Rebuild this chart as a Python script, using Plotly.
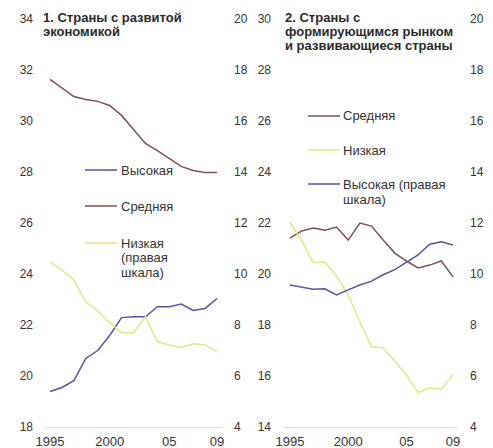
import plotly.graph_objects as go

W, H = 493, 448

years = list(range(1995, 2010))

# Panel 1: advanced economies
adv_high = [19.37, 19.53, 19.8, 20.67, 20.98, 21.57, 22.27, 22.3, 22.3, 22.7, 22.7, 22.8, 22.55, 22.63, 23.02]
adv_mid = [31.61, 31.29, 30.94, 30.82, 30.75, 30.59, 30.2, 29.65, 29.1, 28.82, 28.51, 28.2, 28.04, 27.96, 27.96]
adv_low = [10.45, 10.14, 9.75, 8.89, 8.54, 8.07, 7.68, 7.68, 8.3, 7.32, 7.2, 7.09, 7.25, 7.2, 6.93]  # right scale

# Panel 2: emerging & developing
em_mid = [21.39, 21.67, 21.78, 21.7, 21.82, 21.31, 21.98, 21.86, 21.31, 20.8, 20.49, 20.22, 20.33, 20.49, 19.87]
em_low = [22.0, 21.3, 20.42, 20.45, 19.9, 19.16, 18.1, 17.13, 17.09, 16.55, 16.03, 15.33, 15.52, 15.45, 16.03]
em_high = [9.55, 9.45, 9.38, 9.4, 9.16, 9.36, 9.55, 9.7, 9.95, 10.15, 10.45, 10.73, 11.15, 11.24, 11.12]  # right scale

xtick_vals = [1995, 2000, 2005, 2009]
xtick_text = ["1995", "2000", "05", "09"]

BLUE = "#55559a"
BROWN = "#7d5252"
YELLOW = "#e6e38a"
FONT = "Liberation Sans, Arial, sans-serif"
TXT = "#333333"


def X(px):
    return px / W


def Y(py):
    return 1 - py / H


fig = go.Figure()

fig.add_trace(go.Scatter(x=years, y=adv_mid, xaxis="x", yaxis="y", mode="lines",
                         line=dict(color=BROWN, width=1.5), showlegend=False))
fig.add_trace(go.Scatter(x=years, y=adv_low, xaxis="x", yaxis="y2", mode="lines",
                         line=dict(color=YELLOW, width=1.5), showlegend=False))
fig.add_trace(go.Scatter(x=years, y=adv_high, xaxis="x", yaxis="y", mode="lines",
                         line=dict(color=BLUE, width=1.5), showlegend=False))

fig.add_trace(go.Scatter(x=years, y=em_mid, xaxis="x2", yaxis="y3", mode="lines",
                         line=dict(color=BROWN, width=1.5), showlegend=False))
fig.add_trace(go.Scatter(x=years, y=em_low, xaxis="x2", yaxis="y3", mode="lines",
                         line=dict(color=YELLOW, width=1.5), showlegend=False))
fig.add_trace(go.Scatter(x=years, y=em_high, xaxis="x2", yaxis="y4", mode="lines",
                         line=dict(color=BLUE, width=1.5), showlegend=False))

ydom = [Y(426.5), Y(18.5)]
yfont = dict(family=FONT, size=12, color=TXT)
xfont = dict(family=FONT, size=13, color=TXT)

common_y = dict(domain=ydom, showgrid=False, zeroline=False, ticks="", dtick=2,
                tickfont=yfont, ticklabelstandoff=11, showline=False, automargin=False)
common_x = dict(showgrid=False, zeroline=False, ticks="", tickvals=xtick_vals,
                ticktext=xtick_text, tickfont=xfont, showline=True,
                linecolor="#dcdcdc", linewidth=1, ticklabelstandoff=3, automargin=False)

fig.update_layout(
    template="none",
    width=W, height=H, autosize=False,
    margin=dict(l=0, r=0, t=0, b=0, pad=0),
    paper_bgcolor="white", plot_bgcolor="white",
    hovermode=False,
    xaxis=dict(domain=[X(45), X(222)], range=[1994.58, 2009.42], anchor="y", **common_x),
    yaxis=dict(range=[18, 34], anchor="x", side="left", **common_y),
    yaxis2=dict(range=[4, 20], anchor="x", overlaying="y", side="right", **common_y),
    xaxis2=dict(domain=[X(283), X(458)], range=[1994.40, 2009.43], anchor="y3", **common_x),
    yaxis3=dict(range=[14, 30], anchor="x2", side="left", **common_y),
    yaxis4=dict(range=[4, 20], anchor="x2", overlaying="y3", side="right", **common_y),
)

annotations = []
shapes = []


def text(px, py, s, size=13, bold=False, color=TXT):
    if bold:
        s = "<b>" + s + "</b>"
    annotations.append(dict(x=X(px), y=Y(py), xref="paper", yref="paper", text=s,
                            showarrow=False, xanchor="left", yanchor="middle",
                            font=dict(family=FONT, size=size, color=color)))


def legline(x0, x1, py, color):
    shapes.append(dict(type="line", xref="paper", yref="paper", x0=X(x0), x1=X(x1),
                       y0=Y(py), y1=Y(py), line=dict(color=color, width=1.5)))


# Titles
TC = "#2a2a2a"
text(41, 18, "1. Страны с развитой", size=13, bold=True, color=TC)
text(41, 32, "экономикой", size=13, bold=True, color=TC)
text(283, 18, "2. Страны с", size=13, bold=True, color=TC)
text(283, 32, "формирующимся рынком", size=13, bold=True, color=TC)
text(283, 46, "и развивающиеся страны", size=13, bold=True, color=TC)

# Legend panel 1
legline(85, 117, 170, BLUE)
text(119, 170, "Высокая")
legline(85, 117, 206, BROWN)
text(119, 206, "Средняя")
legline(85, 117, 243, YELLOW)
text(119, 243, "Низкая")
text(119, 257, "(правая")
text(119, 272, "шкала)")

# Legend panel 2
legline(308, 340, 116, BROWN)
text(341, 116, "Средняя")
legline(308, 340, 150, YELLOW)
text(341, 150, "Низкая")
legline(308, 340, 184, BLUE)
text(341, 184, "Высокая (правая")
text(341, 199, "шкала)")

fig.update_layout(annotations=annotations, shapes=shapes)

fig.write_html("out.html",
               config={"displayModeBar": False, "staticPlot": True},
               post_script="document.body.style.margin='0';document.body.style.overflow='hidden';")
